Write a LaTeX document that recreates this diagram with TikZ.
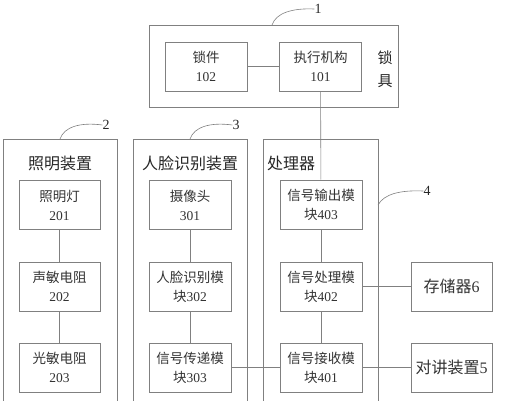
\documentclass[tikz,border=0pt]{standalone}
\usepackage{fontspec}
\setmainfont{Liberation Serif}
\newfontfamily\cjk{Noto Sans CJK SC}
\begin{document}
\begin{tikzpicture}[x=1pt,y=-1pt,
  line/.style={draw=black!50,line width=0.6pt},
  box/.style={line,minimum width=82pt,minimum height=49pt,inner sep=0pt,align=center,font=\fontsize{13.5}{19}\selectfont,text=black!80},
  wbox/.style={box,minimum width=81pt,font=\fontsize{16}{18}\selectfont},
  frame/.style={line,anchor=north west,inner sep=0pt},
  ttl/.style={font=\fontsize{16}{18}\selectfont,text=black!85,inner sep=0pt},
  num/.style={font=\fontsize{14}{16}\selectfont,inner sep=0pt,text=black!85}]
\useasboundingbox (0,0) rectangle (511,400);
% containers
\node[frame,minimum width=249pt,minimum height=82pt] (lock) at (149,25) {};
\node[frame,minimum width=114pt,minimum height=270pt] (c2) at (3,139) {};
\node[frame,minimum width=114pt,minimum height=270pt] (c3) at (133,139) {};
\node[frame,minimum width=115pt,minimum height=270pt] (c4) at (263,139) {};
% titles
\node[ttl] (t2) at (60,163) {\cjk 照明装置};
\node[ttl] (t3) at (190,163) {\cjk 人脸识别装置};
\node[ttl] (t4) at (291,163) {\cjk 处理器};
\node[ttl,align=center,font=\fontsize{15}{23}\selectfont] (t1) at (385,69) {\cjk 锁\\\cjk 具};
% boxes
\node[box] (b102) at (206,66.5) {{\cjk 锁件}\\102};
\node[box] (b101) at (320.5,66.5) {{\cjk 执行机构}\\101};
\node[box,minimum width=81pt] (b201) at (59.5,205) {{\cjk 照明灯}\\201};
\node[box,minimum width=81pt] (b202) at (59.5,286.5) {{\cjk 声敏电阻}\\202};
\node[box,minimum width=81pt] (b203) at (59.5,367.5) {{\cjk 光敏电阻}\\203};
\node[box] (b301) at (190,205) {{\cjk 摄像头}\\301};
\node[box] (b302) at (190,286.5) {{\cjk 人脸识别模}\\{\cjk 块}302};
\node[box] (b303) at (190,367.5) {{\cjk 信号传递模}\\{\cjk 块}303};
\node[box] (b403) at (321,204.5) {{\cjk 信号输出模}\\{\cjk 块}403};
\node[box] (b402) at (321,286.5) {{\cjk 信号处理模}\\{\cjk 块}402};
\node[box] (b401) at (321,367.5) {{\cjk 信号接收模}\\{\cjk 块}401};
\node[wbox] (b6) at (451.5,286.5) {{\cjk 存储器}6};
\node[wbox] (b5) at (451.5,367.5) {{\cjk 对讲装置}5};
% connectors
\draw[line] (b102) -- (b101);
\draw[line] (b101) -- (b403);
\draw[line] (b201) -- (b202);
\draw[line] (b202) -- (b203);
\draw[line] (b301) -- (b302);
\draw[line] (b302) -- (b303);
\draw[line] (b403) -- (b402);
\draw[line] (b402) -- (b401);
\draw[line] (b303) -- (b401);
\draw[line] (b402) -- (b6);
\draw[line] (b401) -- (b5);
% leaders
\coordinate (l1) at (272,25);
\coordinate (l2) at (60,139);
\coordinate (l3) at (190,139);
\coordinate (l4) at (378,205);
\node[num] (n1) at (318,9) {1};
\node[num] (n2) at (106,125) {2};
\node[num] (n3) at (236,125) {3};
\node[num] (n4) at (427,191) {4};
\draw[line] (l1) .. controls (276,13) and (292,8) .. (n1.west);
\draw[line] (l2) .. controls (64,127) and (80,122) .. (n2.west);
\draw[line] (l3) .. controls (194,127) and (210,122) .. (n3.west);
\draw[line] (l4) .. controls (384,194) and (400,190) .. (n4.west);
\end{tikzpicture}
\end{document}
